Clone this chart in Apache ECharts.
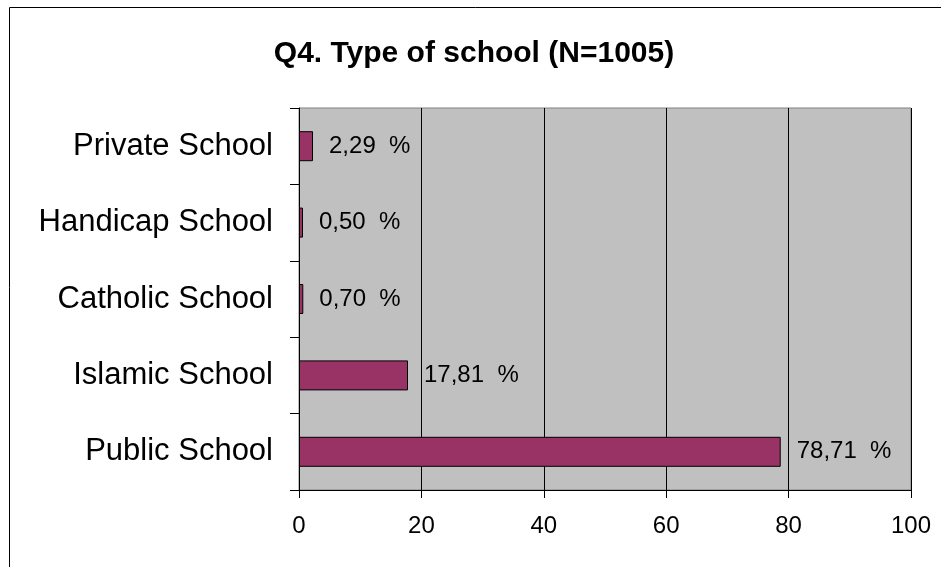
<!DOCTYPE html>
<html>
<head>
<meta charset="utf-8">
<title>Q4. Type of school</title>
<script src="https://cdn.jsdelivr.net/npm/echarts@6/dist/echarts.min.js"></script>
<style>
  html, body { margin: 0; padding: 0; background: #fff; }
  #chart { width: 941px; height: 567px; }
</style>
</head>
<body>
<div id="chart"></div>
<script>
// categories from bottom to top, as drawn
const categories = ["Public School", "Islamic School", "Catholic School", "Handicap School", "Private School"];
const percents = [78.71, 17.81, 0.70, 0.50, 2.29];
const xTicks = [0, 20, 40, 60, 80, 100];

const font = "'Liberation Sans', Arial, sans-serif";
const chart = echarts.init(document.getElementById("chart"));

chart.setOption({
  backgroundColor: "#fff",
  animation: false,
  title: {
    text: "Q4. Type of school (N=1005)",
    left: 469,
    textAlign: "center",
    top: 34,
    textStyle: { fontFamily: font, fontSize: 30, fontWeight: "bold", color: "#000" },
  },
  // outer chart frame (right and bottom edges fall outside the picture)
  graphic: [
    {
      type: "rect",
      shape: { x: 9.5, y: 7.5, width: 1000, height: 1000 },
      style: { fill: null, stroke: "#000", lineWidth: 1 },
      silent: true,
    },
  ],
  grid: {
    left: 299,
    right: 30,
    top: 108,
    bottom: 77,
    show: true,
    backgroundColor: "#c0c0c0",
    borderColor: "#808080",
    borderWidth: 1,
  },
  xAxis: {
    type: "value",
    min: xTicks[0],
    max: xTicks[xTicks.length - 1],
    interval: 20,
    axisLine: { show: true, lineStyle: { color: "#000", width: 1 } },
    axisTick: { show: true, length: 8, lineStyle: { color: "#000" } },
    axisLabel: { margin: 24, fontFamily: font, fontSize: 24, color: "#000" },
    splitLine: { show: true, lineStyle: { color: "#000", width: 1 } },
  },
  yAxis: {
    type: "category",
    data: categories,
    axisLine: { show: true, lineStyle: { color: "#000", width: 1 } },
    axisTick: { show: true, length: 9, lineStyle: { color: "#000" } },
    axisLabel: { margin: 26, fontFamily: font, fontSize: 31, color: "#000" },
    splitLine: { show: false },
  },
  series: [
    {
      type: "bar",
      data: percents,
      barWidth: 30,
      barMinHeight: 4,
      itemStyle: { color: "#993366", borderColor: "#000", borderWidth: 1 },
      label: {
        show: true,
        position: "right",
        distance: 16,
        fontFamily: font,
        fontSize: 24,
        color: "#000",
        formatter: (p) => p.value.toFixed(2).replace(".", ",") + "  %",
      },
    },
  ],
});
</script>
</body>
</html>
